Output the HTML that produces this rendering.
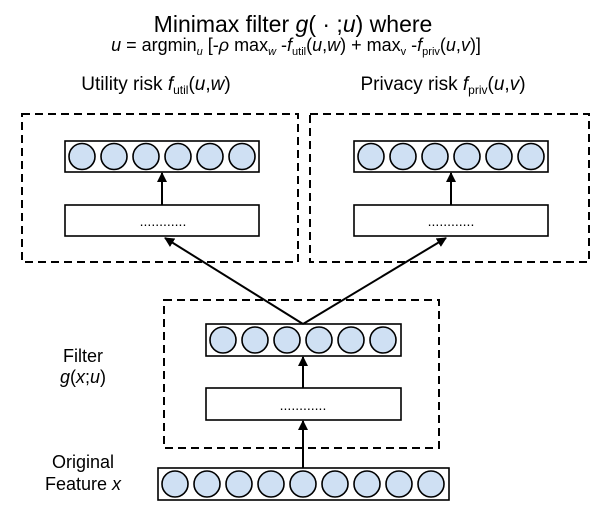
<!DOCTYPE html>
<html><head><meta charset="utf-8"><style>html,body{margin:0;padding:0;background:#fff}svg{display:block}</style></head>
<body>
<svg width="608" height="516" viewBox="0 0 608 516" xmlns="http://www.w3.org/2000/svg" font-family="Liberation Sans, sans-serif" fill="#000">
<defs><marker id="a" markerWidth="10" markerHeight="10" refX="9" refY="5" orient="auto" markerUnits="userSpaceOnUse"><path d="M0,0 L10,5 L0,10 z" fill="#000"/></marker></defs>
<text x="293" y="32" font-size="23" text-anchor="middle">Minimax filter <tspan font-style="italic">g</tspan>( · ;<tspan font-style="italic">u</tspan>)  where</text>
<text x="296" y="51" font-size="18" text-anchor="middle"><tspan font-style="italic">u</tspan> = argmin<tspan font-size="11" font-style="italic" dy="4">u</tspan><tspan dy="-4"> [-</tspan><tspan font-style="italic">ρ</tspan> max<tspan font-size="11" font-style="italic" dy="4">w</tspan><tspan dy="-4"> -</tspan><tspan font-style="italic">f</tspan><tspan font-size="11" dy="4">util</tspan><tspan dy="-4">(</tspan><tspan font-style="italic">u</tspan>,<tspan font-style="italic">w</tspan>)  + max<tspan font-size="11" dy="4">v</tspan><tspan dy="-4"> -</tspan><tspan font-style="italic">f</tspan><tspan font-size="11" dy="4">priv</tspan><tspan dy="-4">(</tspan><tspan font-style="italic">u</tspan>,<tspan font-style="italic">v</tspan>)]</text>
<text x="156" y="90" font-size="19" text-anchor="middle">Utility risk  <tspan font-style="italic">f</tspan><tspan font-size="12" dy="4">util</tspan><tspan dy="-4">(</tspan><tspan font-style="italic">u</tspan>,<tspan font-style="italic">w</tspan>)</text>
<text x="443" y="90" font-size="19" text-anchor="middle">Privacy risk  <tspan font-style="italic">f</tspan><tspan font-size="12" dy="4">priv</tspan><tspan dy="-4">(</tspan><tspan font-style="italic">u</tspan>,<tspan font-style="italic">v</tspan>)</text>
<g fill="none" stroke="#000" stroke-width="2" stroke-dasharray="8,5">
<rect x="22" y="114" width="276" height="148"/>
<rect x="310" y="114" width="279" height="148"/>
<rect x="164" y="300" width="275" height="148"/>
</g>
<g stroke="#000" stroke-width="1.6" fill="#fff">
<rect x="65" y="141" width="194" height="31"/>
<rect x="65" y="205" width="194" height="31"/>
<rect x="354" y="141" width="194" height="31"/>
<rect x="354" y="205" width="194" height="31"/>
<rect x="206" y="324" width="195" height="32"/>
<rect x="206" y="388" width="195" height="32"/>
<rect x="158" y="468" width="291" height="32"/>
</g>
<g stroke="#000" stroke-width="1.6" fill="#cfe0f3">
<ellipse cx="82" cy="156.5" rx="13" ry="13"/><ellipse cx="114" cy="156.5" rx="13" ry="13"/><ellipse cx="146" cy="156.5" rx="13" ry="13"/><ellipse cx="178" cy="156.5" rx="13" ry="13"/><ellipse cx="210" cy="156.5" rx="13" ry="13"/><ellipse cx="242" cy="156.5" rx="13" ry="13"/>
<ellipse cx="371" cy="156.5" rx="13" ry="13"/><ellipse cx="403" cy="156.5" rx="13" ry="13"/><ellipse cx="435" cy="156.5" rx="13" ry="13"/><ellipse cx="467" cy="156.5" rx="13" ry="13"/><ellipse cx="499" cy="156.5" rx="13" ry="13"/><ellipse cx="531" cy="156.5" rx="13" ry="13"/>
<ellipse cx="223" cy="340" rx="13" ry="13"/><ellipse cx="255" cy="340" rx="13" ry="13"/><ellipse cx="287" cy="340" rx="13" ry="13"/><ellipse cx="319" cy="340" rx="13" ry="13"/><ellipse cx="351" cy="340" rx="13" ry="13"/><ellipse cx="383" cy="340" rx="13" ry="13"/>
<ellipse cx="175" cy="484" rx="13" ry="13"/><ellipse cx="207" cy="484" rx="13" ry="13"/><ellipse cx="239" cy="484" rx="13" ry="13"/><ellipse cx="271" cy="484" rx="13" ry="13"/><ellipse cx="303" cy="484" rx="13" ry="13"/><ellipse cx="335" cy="484" rx="13" ry="13"/><ellipse cx="367" cy="484" rx="13" ry="13"/><ellipse cx="399" cy="484" rx="13" ry="13"/><ellipse cx="431" cy="484" rx="13" ry="13"/>
</g>
<g font-size="14" text-anchor="middle">
<text x="163" y="226">............</text>
<text x="451" y="226">............</text>
<text x="303" y="410">............</text>
</g>
<g stroke="#000" stroke-width="2" marker-end="url(#a)">
<line x1="162" y1="205" x2="162" y2="173"/>
<line x1="451" y1="205" x2="451" y2="173"/>
<line x1="303" y1="388" x2="303" y2="357"/>
<line x1="303" y1="468" x2="303" y2="421"/>
<line x1="303" y1="324" x2="165" y2="238"/>
<line x1="303" y1="324" x2="446" y2="238"/>
</g>
<g font-size="18" text-anchor="middle">
<text x="83" y="362">Filter</text>
<text x="83" y="383"><tspan font-style="italic">g</tspan>(<tspan font-style="italic">x</tspan>;<tspan font-style="italic">u</tspan>)</text>
<text x="83" y="468">Original</text>
<text x="83" y="490">Feature <tspan font-style="italic">x</tspan></text>
</g>
</svg>
</body></html>
